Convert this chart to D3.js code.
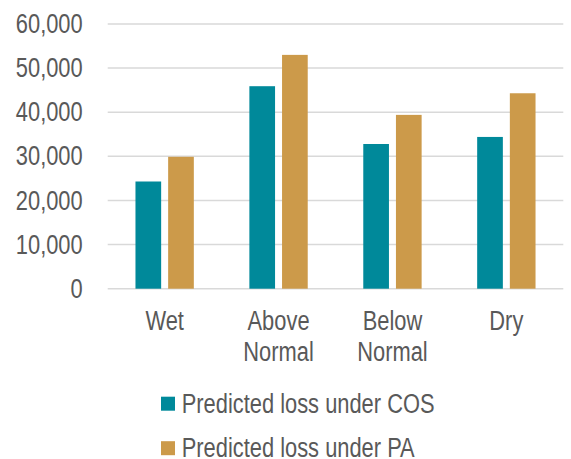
<!DOCTYPE html>
<html>
<head>
<meta charset="utf-8">
<script src="https://cdn.jsdelivr.net/npm/d3@7"></script>
<style>
  body { margin: 0; background: #fff; }
  text { font-family: "Liberation Sans", Arial, sans-serif; fill: #595959; }
</style>
</head>
<body>
<div id="chart"></div>
<script>
// data
const categories = [['Wet'], ['Above', 'Normal'], ['Below', 'Normal'], ['Dry']];
const seriesNames = ['Predicted loss under COS', 'Predicted loss under PA'];
const cosValues = [24300, 45900, 32800, 34400];
const paValues = [29900, 53000, 39400, 44300];
const yTicks = [0, 10000, 20000, 30000, 40000, 50000, 60000];
const colors = ['#00899a', '#cc9a4a'];

const width = 571;
const height = 459;
const fontSize = 27;
// the reference font is a narrow one, squeeze the glyphs to match
const squeeze = 0.81;

const svg = d3.select('#chart')
  .append('svg')
  .attr('width', width)
  .attr('height', height);

// plot area
const plotLeft = 107.7;
const plotRight = 563.3;
const plotTop = 24;
const plotBottom = 288.7;

const keys = categories.map(c => c.join(' '));

const x0 = d3.scaleBand()
  .domain(keys)
  .range([plotLeft, plotRight])
  .padding(0);

const x1 = d3.scaleBand()
  .domain([0, 1])
  .range([0, x0.bandwidth()])
  .paddingInner(0.214)
  .paddingOuter(0.85);

const y = d3.scaleLinear()
  .domain([0, 60000])
  .range([plotBottom, plotTop]);

// gridlines
svg.append('g')
  .selectAll('line')
  .data(yTicks)
  .enter()
  .append('line')
  .attr('x1', plotLeft)
  .attr('x2', plotRight)
  .attr('y1', d => y(d))
  .attr('y2', d => y(d))
  .attr('stroke', '#d9d9d9')
  .attr('stroke-width', 1.5);

// y axis labels
const axisY = d3.axisLeft(y)
  .tickValues(yTicks)
  .tickFormat(d3.format(','))
  .tickSize(0)
  .tickPadding(0);

const gy = svg.append('g')
  .attr('transform', `translate(82.7, 0)`)
  .call(axisY);
gy.select('.domain').remove();
gy.selectAll('text')
  .attr('font-size', fontSize)
  .attr('fill', '#595959')
  .style('font-family', '"Liberation Sans", Arial, sans-serif');

// bars
const rows = keys.map((k, i) => ({ key: k, values: [cosValues[i], paValues[i]] }));

const groups = svg.append('g')
  .selectAll('g')
  .data(rows)
  .enter()
  .append('g')
  .attr('transform', d => `translate(${x0(d.key)}, 0)`);

groups.selectAll('rect')
  .data(d => d.values.map((v, j) => ({ v, j })))
  .enter()
  .append('rect')
  .attr('x', d => x1(d.j))
  .attr('y', d => y(d.v))
  .attr('width', x1.bandwidth())
  .attr('height', d => plotBottom - y(d.v))
  .attr('fill', d => colors[d.j]);

// category labels
const xLabels = svg.append('g')
  .selectAll('text')
  .data(categories)
  .enter()
  .append('text')
  .attr('text-anchor', 'middle')
  .attr('font-size', fontSize)
  .attr('x', (d, i) => x0(keys[i]) + x0.bandwidth() / 2)
  .attr('y', 329.7);

xLabels.selectAll('tspan')
  .data(d => d)
  .enter()
  .append('tspan')
  .attr('class', 'line')
  .attr('x', function () { return d3.select(this.parentNode).attr('x'); })
  .attr('dy', (d, i) => i === 0 ? 0 : 31)
  .text(d => d);

// legend
const legend = svg.append('g')
  .attr('transform', 'translate(161, 396.7)');

const items = legend.selectAll('g')
  .data(seriesNames)
  .enter()
  .append('g')
  .attr('transform', (d, i) => `translate(0, ${i * 44.5})`);

items.append('rect')
  .attr('width', 14)
  .attr('height', 14)
  .attr('fill', (d, i) => colors[i]);

items.append('text')
  .attr('x', 20.7)
  .attr('y', 16)
  .attr('font-size', fontSize)
  .text(d => d);

// narrow every text
svg.selectAll('g > text').each(function () {
  if (this.querySelector('tspan')) return;
  const len = this.getComputedTextLength();
  d3.select(this).attr('textLength', len * squeeze).attr('lengthAdjust', 'spacingAndGlyphs');
});
svg.selectAll('tspan.line').each(function () {
  const len = this.getComputedTextLength();
  d3.select(this).attr('textLength', len * squeeze).attr('lengthAdjust', 'spacingAndGlyphs');
});
</script>
</body>
</html>
